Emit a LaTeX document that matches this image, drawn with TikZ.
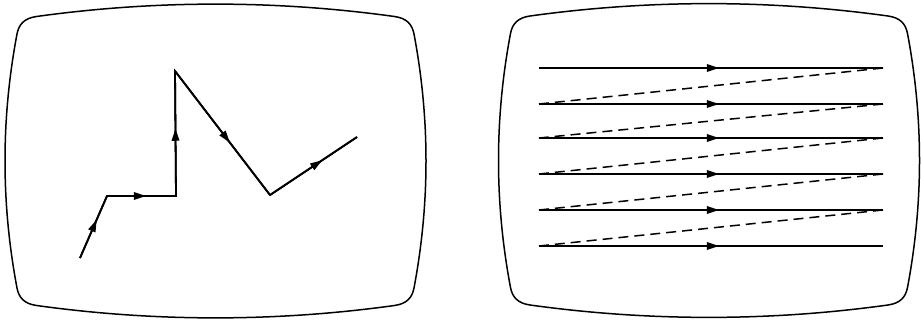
\documentclass[tikz,border=0pt]{standalone}
\usetikzlibrary{decorations.markings}
\begin{document}
\begin{tikzpicture}[x=1pt,y=-1pt,
  screen/.style={line width=1.5pt, line join=round},
  trace/.style={line width=1.8pt, line join=miter},
  retrace/.style={line width=1.5pt, dash pattern=on 10pt off 6pt},
  midarrow/.style={postaction={decorate}, decoration={markings,
     mark=at position #1 with {\fill (1pt,0pt) -- (-11pt,4pt) -- (-11pt,-4pt) -- cycle;}}}]
\useasboundingbox (0,0) rectangle (921,321);
% the two screens
\foreach \cx/\cy in {215.5/161, 709/160.5}{
\begin{scope}[shift={(\cx,\cy)}]
\draw[screen] (-198.5,127) .. controls (-214.5,42) and (-214.5,-42) .. (-198.5,-127)
 .. controls (-196.6,-137) and (-190.9,-142.8) .. (-179,-144.5)
 .. controls (-60,-161) and (60,-161) .. (179,-144.5)
 .. controls (190.9,-142.8) and (196.6,-137) .. (198.5,-127)
 .. controls (214.5,-42) and (214.5,42) .. (198.5,127)
 .. controls (196.6,137) and (190.9,142.8) .. (179,144.5)
 .. controls (60,161) and (-60,161) .. (-179,144.5)
 .. controls (-190.9,142.8) and (-196.6,137) .. (-198.5,127) -- cycle;
\end{scope}}
% random scan trace
\coordinate (p1) at (80,258);
\coordinate (p2) at (107,196);
\coordinate (p3) at (176,196);
\coordinate (p4) at (175,71);
\coordinate (p5) at (270,195);
\coordinate (p6) at (357,137);
\draw[trace] (p1) -- (p2) -- (p3) -- (p4) -- (p5) -- (p6);
\draw[trace, midarrow=0.6] (p1) -- (p2);
\draw[trace, midarrow=0.55] (p2) -- (p3);
\draw[trace, midarrow=0.53] (p3) -- (p4);
\draw[trace, midarrow=0.57] (p4) -- (p5);
\draw[trace, midarrow=0.59] (p5) -- (p6);
% raster scan
\foreach \i/\y in {1/68,2/104,3/138,4/174,5/210,6/246}{
  \coordinate (L\i) at (539,\y);
  \coordinate (R\i) at (883,\y);
}
\foreach \i in {1,...,6}{
  \draw[trace, midarrow=0.52] (L\i) -- (R\i);
}
\foreach \i/\j in {1/2,2/3,3/4,4/5,5/6}{
  \draw[retrace] (R\i) -- (L\j);
}
\end{tikzpicture}
\end{document}
